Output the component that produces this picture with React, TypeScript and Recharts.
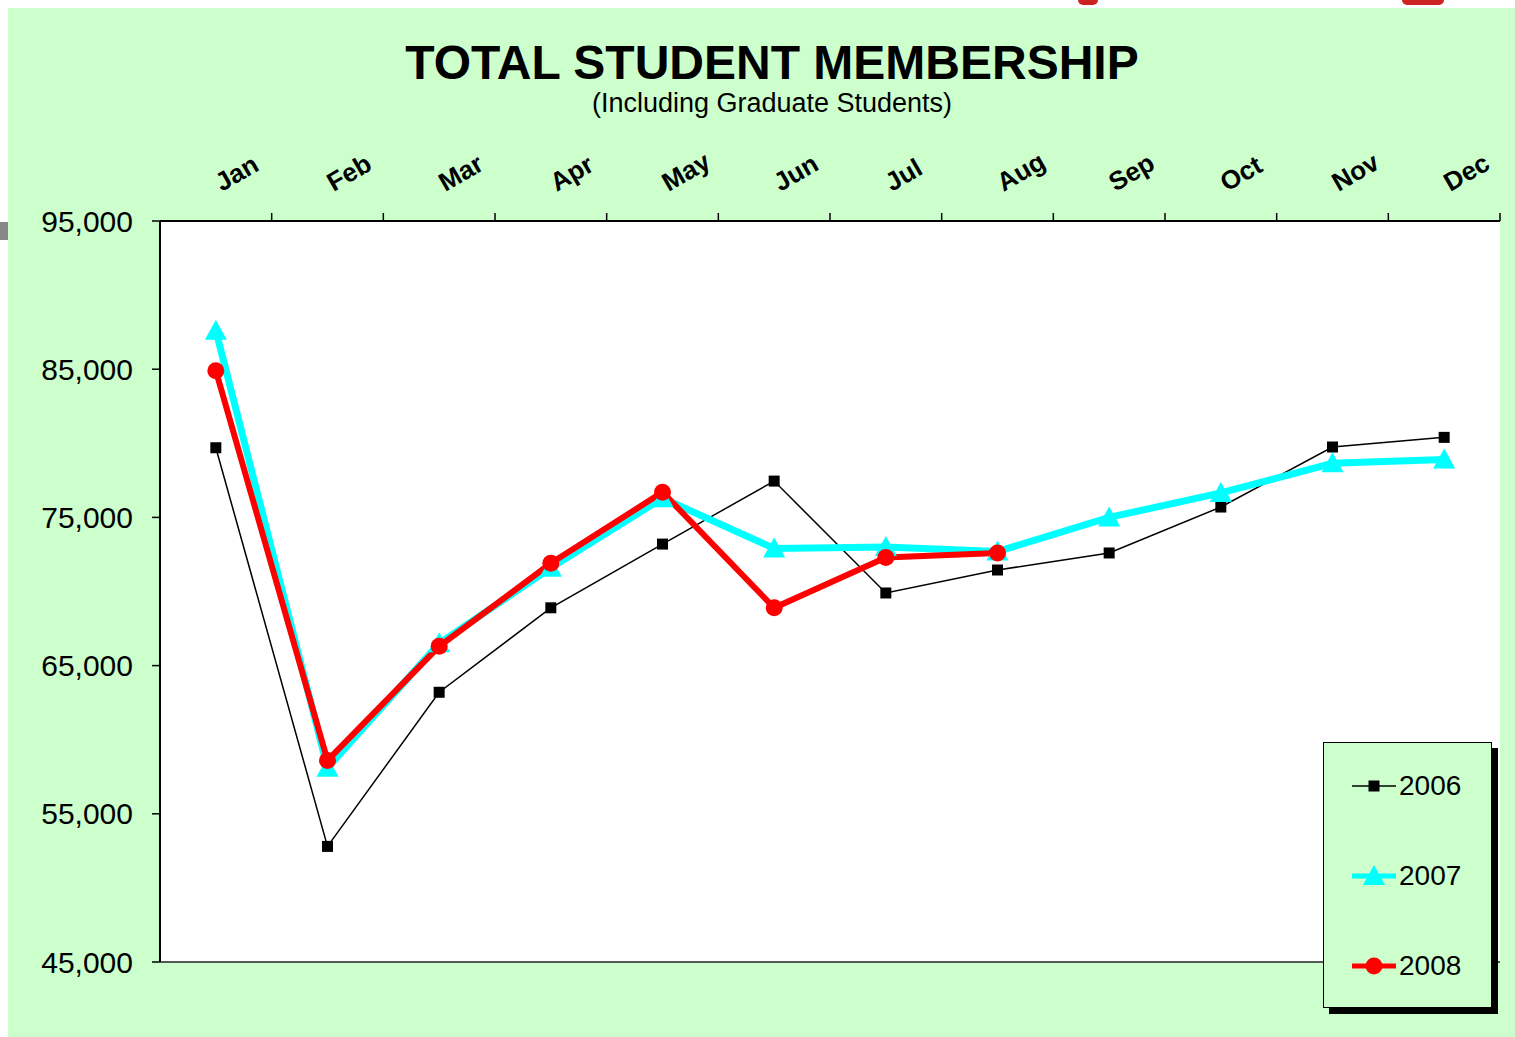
import React from "react";
import { LineChart, Line, XAxis, YAxis, CartesianGrid, Legend } from "recharts";

const months = ["Jan", "Feb", "Mar", "Apr", "May", "Jun", "Jul", "Aug", "Sep", "Oct", "Nov", "Dec"];
const members2006 = [79700, 52800, 63200, 68900, 73200, 77450, 69900, 71450, 72600, 75700, 79750, 80400];
const members2007 = [87600, 58100, 66500, 71600, 76300, 72900, 73000, 72700, 75000, 76650, 78650, 78900];
const members2008 = [84900, 58600, 66300, 71900, 76700, 68900, 72300, 72600, null, null, null, null];
const yTicks = [45000, 55000, 65000, 75000, 85000, 95000];

const data = months.map((month, i) => ({
  month,
  y2006: members2006[i],
  y2007: members2007[i],
  y2008: members2008[i],
}));

const FONT = '"Liberation Sans", Arial, sans-serif';
const CHART_W = 1507;
const CHART_H = 1029;
const MARGIN = { top: 153, right: 15, bottom: 75, left: 0 };
const Y_AXIS_W = 152;
const X_AXIS_H = 60;
const AXIS_Y = MARGIN.top + X_AXIS_H;
const BAND = (CHART_W - MARGIN.right - Y_AXIS_W) / months.length;

const series = [
  { key: "y2006", name: "2006", color: "#000000", width: 1.5, marker: "square" },
  { key: "y2007", name: "2007", color: "#00FFFF", width: 7, marker: "triangle" },
  { key: "y2008", name: "2008", color: "#FF0000", width: 6, marker: "circle" },
];

function Marker({ type, cx, cy, color }: { type: string; cx: number; cy: number; color: string }) {
  if (type === "square") return <rect x={cx - 5.5} y={cy - 5.5} width={11} height={11} fill={color} />;
  if (type === "triangle")
    return <polygon points={`${cx},${cy - 11} ${cx + 11},${cy + 9} ${cx - 11},${cy + 9}`} fill={color} />;
  return <circle cx={cx} cy={cy} r={8.5} fill={color} />;
}

function makeDot(type: string, color: string) {
  return (p: any) => {
    if (p.value == null || p.cy == null) return <g key={p.key} />;
    return (
      <g key={p.key}>
        <Marker type={type} cx={p.cx} cy={p.cy} color={color} />
      </g>
    );
  };
}

function MonthTick(props: any) {
  const { x, payload } = props;
  const bx = x + BAND / 2;
  const tx = x + 6;
  const ty = AXIS_Y - 29;
  return (
    <g>
      <line x1={bx} x2={bx} y1={AXIS_Y} y2={AXIS_Y - 8} stroke="#000" strokeWidth={1.5} />
      <text
        x={tx}
        y={ty}
        transform={`rotate(-30 ${tx} ${ty})`}
        textAnchor="start"
        fontFamily={FONT}
        fontWeight="bold"
        fontSize={26}
        fill="#000"
      >
        {payload.value}
      </text>
    </g>
  );
}

function LegendBox(props: any) {
  const items = (props.payload || []) as any[];
  return (
    <div
      style={{
        width: 167,
        height: 264,
        border: "1.5px solid #000",
        background: "#CCFFCC",
        boxShadow: "6px 6px 0 #000",
        position: "relative",
        fontFamily: FONT,
      }}
    >
      {items.map((it, i) => {
        const s = series.find((x) => x.key === it.dataKey) || series[i];
        return (
          <div
            key={s.key}
            style={{ position: "absolute", left: 28, top: 43 + i * 90 - 15, height: 30, display: "flex", alignItems: "center" }}
          >
            <svg width={46} height={30}>
              <line x1={0} x2={44} y1={15} y2={15} stroke={s.color} strokeWidth={s.marker === "square" ? 1.5 : 5} />
              <Marker type={s.marker} cx={22} cy={15} color={s.color} />
            </svg>
            <span style={{ fontSize: 28, color: "#000", marginLeft: 1 }}>{s.name}</span>
          </div>
        );
      })}
    </div>
  );
}

export default function App() {
  return (
    <div>
      <div style={{ position: "absolute", left: 0, top: 222, width: 8, height: 18, background: "#888" }} />
      <div style={{ position: "absolute", left: 1078, top: 0, width: 20, height: 5, background: "#CC2222", borderRadius: "0 0 10px 10px" }} />
      <div style={{ position: "absolute", left: 1402, top: 0, width: 42, height: 5, background: "#CC2222", borderRadius: "0 0 14px 14px" }} />
      <div
        style={{
          position: "absolute",
          left: 8,
          top: 8,
          width: CHART_W,
          height: CHART_H,
          background: "#CCFFCC",
          fontFamily: FONT,
        }}
      >
        <div
          style={{
            position: "absolute",
            left: 0,
            width: 1528,
            top: 27,
            textAlign: "center",
            fontSize: 48,
            fontWeight: "bold",
            color: "#000",
            lineHeight: "56px",
          }}
        >
          TOTAL STUDENT MEMBERSHIP
        </div>
        <div
          style={{
            position: "absolute",
            left: 0,
            width: 1528,
            top: 80,
            textAlign: "center",
            fontSize: 27,
            color: "#000",
            lineHeight: "30px",
          }}
        >
          (Including Graduate Students)
        </div>
        <LineChart width={CHART_W} height={CHART_H} data={data} margin={MARGIN}>
          <CartesianGrid vertical={false} stroke="#222" strokeWidth={1.5} fill="#fff" fillOpacity={1} />
          <XAxis
            dataKey="month"
            orientation="top"
            scale="band"
            height={X_AXIS_H}
            interval={0}
            axisLine={{ stroke: "#000", strokeWidth: 2 }}
            tickLine={false}
            tick={<MonthTick />}
          />
          <YAxis
            yAxisId="left"
            domain={[45000, 95000]}
            ticks={yTicks}
            width={Y_AXIS_W}
            interval={0}
            axisLine={{ stroke: "#000", strokeWidth: 2 }}
            tickLine={{ stroke: "#000", strokeWidth: 1.5 }}
            tickSize={8}
            tickMargin={19}
            tickFormatter={(v: number) => v.toLocaleString("en-US")}
            tick={{ fontSize: 30, fill: "#000", fontFamily: FONT }}
          />
          <YAxis yAxisId="right" orientation="right" width={0} tick={false} tickLine={false} axisLine={{ stroke: "#888", strokeWidth: 2 }} />
          {series.map((s) => (
            <Line
              key={s.key}
              yAxisId="left"
              type="linear"
              dataKey={s.key}
              name={s.name}
              stroke={s.color}
              strokeWidth={s.width}
              dot={makeDot(s.marker, s.color)}
              activeDot={false}
              isAnimationActive={false}
            />
          ))}
          <Legend
            layout="vertical"
            align="center"
            verticalAlign="middle"
            content={<LegendBox />}
            wrapperStyle={{ position: "absolute", left: 1315, top: 734, width: 170, height: 267 }}
          />
        </LineChart>
      </div>
    </div>
  );
}
